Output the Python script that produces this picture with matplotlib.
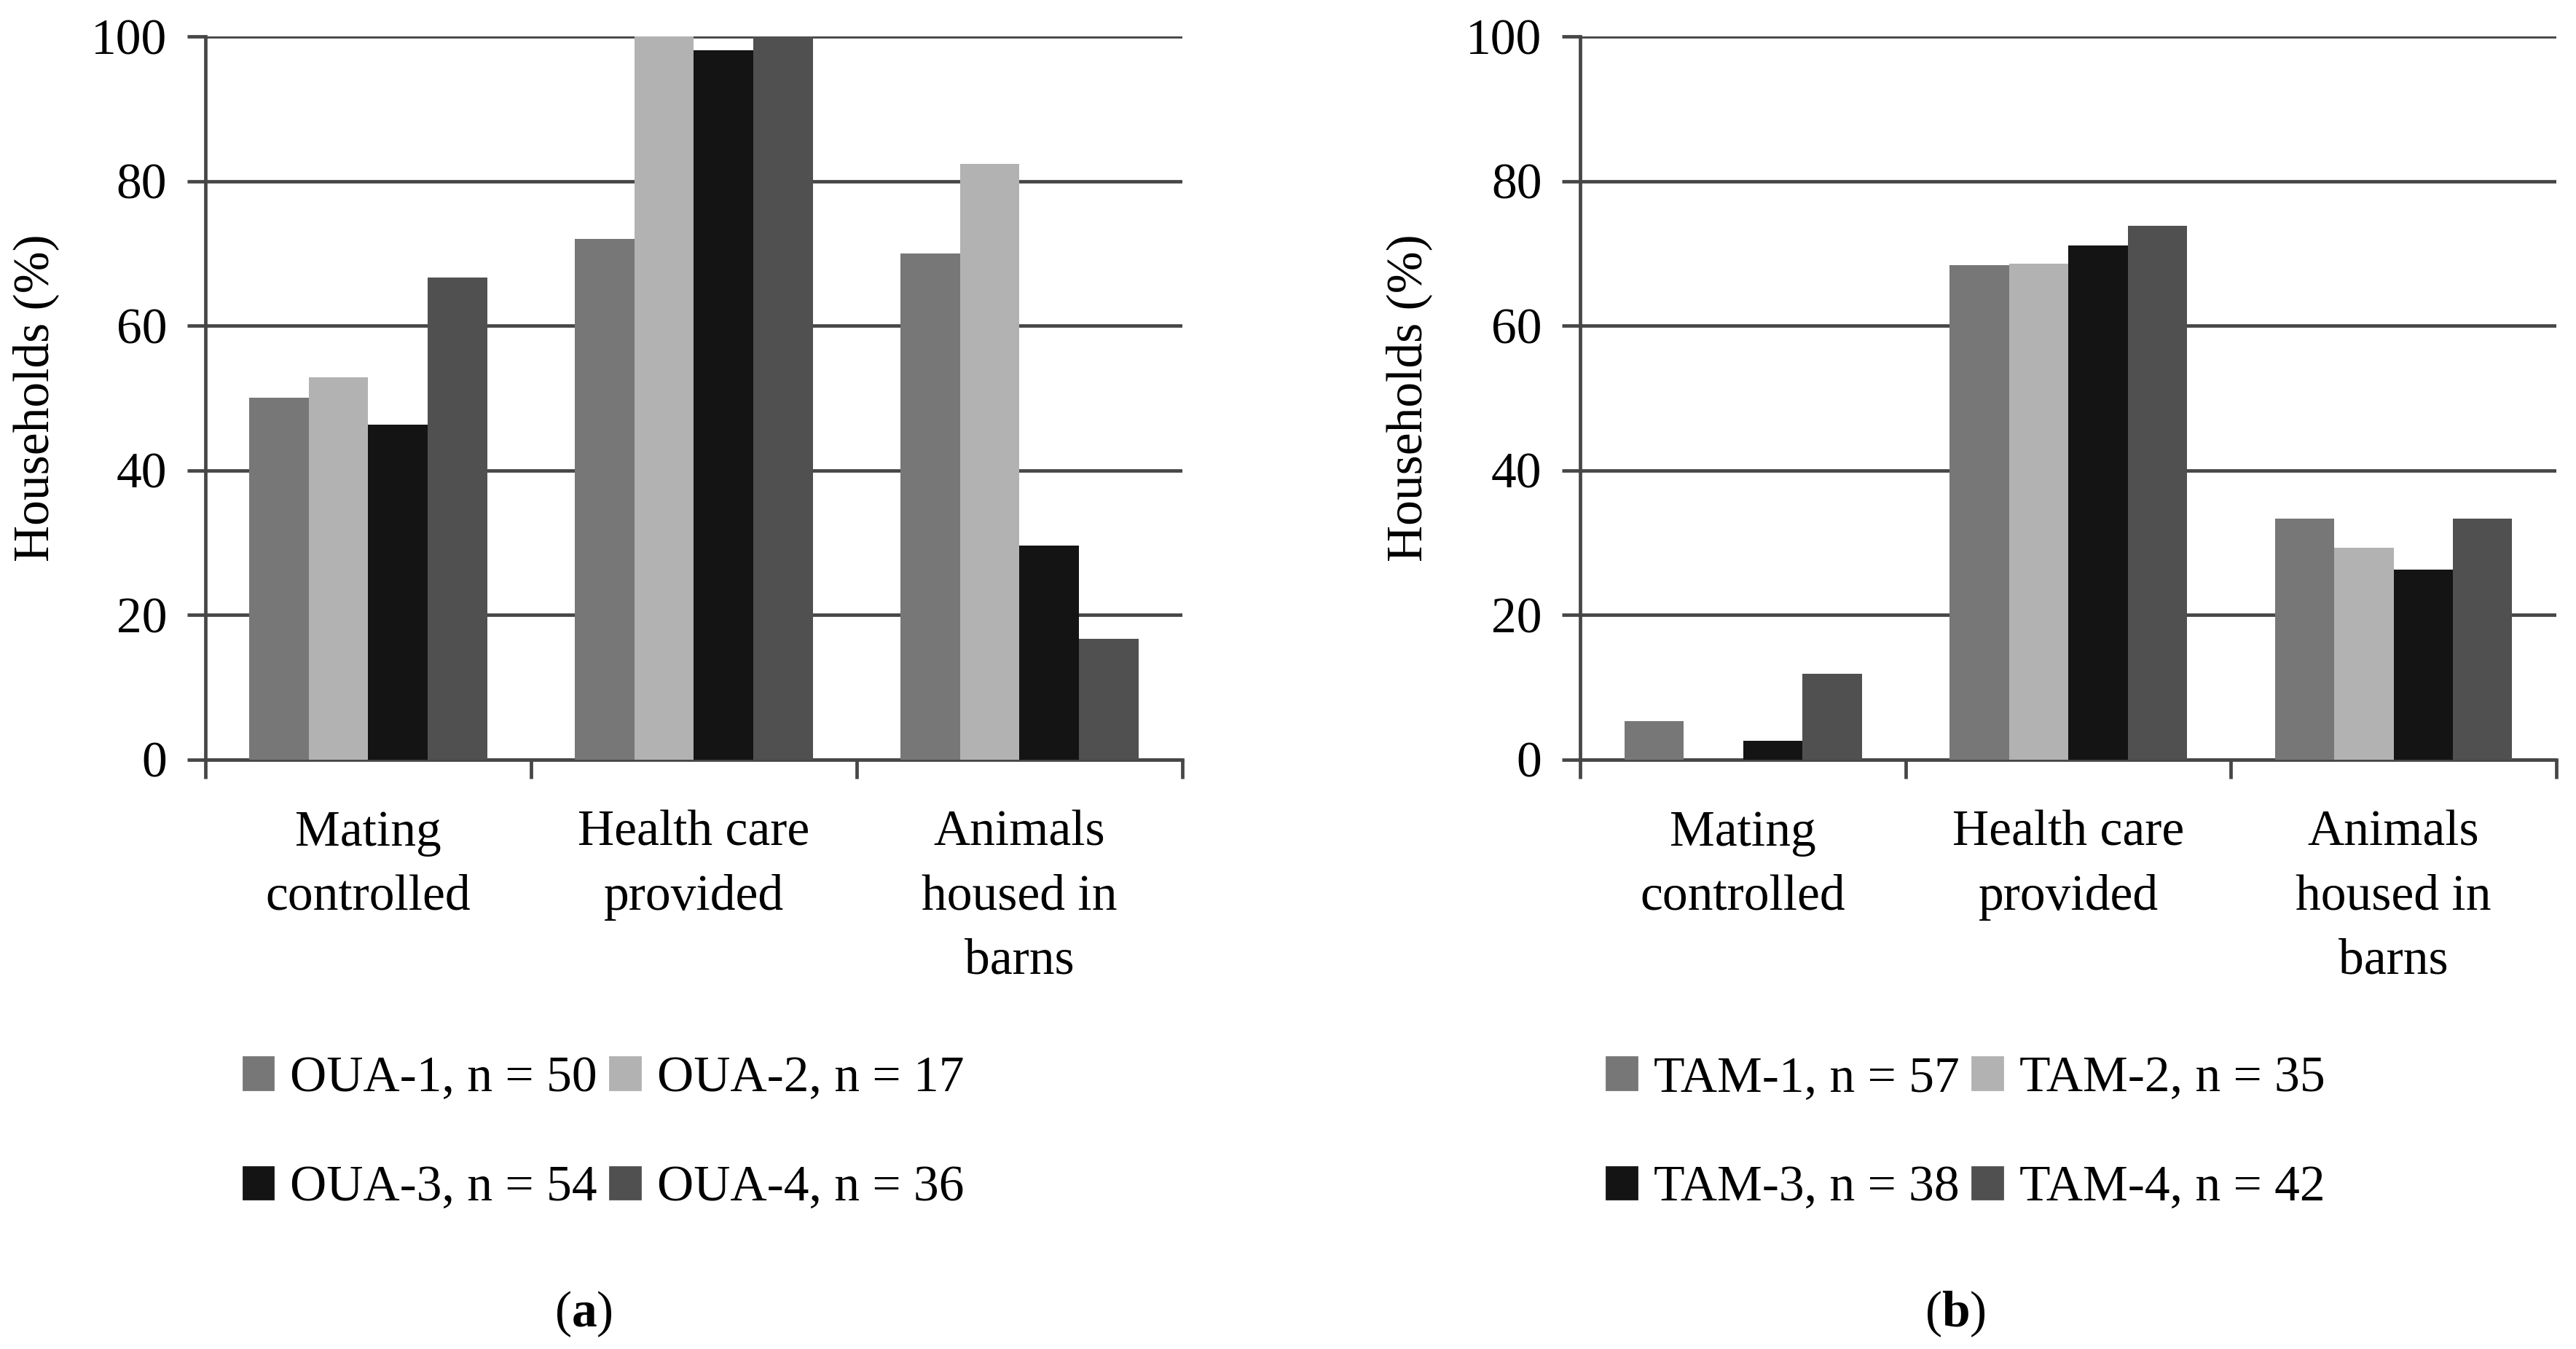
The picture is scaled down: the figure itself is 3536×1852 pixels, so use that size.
import matplotlib
matplotlib.use("Agg")
import matplotlib.pyplot as plt
from matplotlib.patches import Patch
import numpy as np

plt.rcParams["font.family"] = ["Liberation Serif", "DejaVu Serif"]
plt.rcParams["mathtext.fontset"] = "custom"
plt.rcParams["mathtext.rm"] = "Liberation Serif"
plt.rcParams["mathtext.bf"] = "Liberation Serif:bold"

# ── Data ──────────────────────────────────────────────────────────────────────
categories = ["Mating\ncontrolled", "Health care\nprovided", "Animals\nhoused in\nbarns"]

oua_labels = ["OUA-1, n = 50", "OUA-2, n = 17", "OUA-3, n = 54", "OUA-4, n = 36"]
oua_1 = [50.0, 72.0, 70.0]
oua_2 = [52.9, 100.0, 82.4]
oua_3 = [46.3, 98.1, 29.6]
oua_4 = [66.7, 100.0, 16.7]

tam_labels = ["TAM-1, n = 57", "TAM-2, n = 35", "TAM-3, n = 38", "TAM-4, n = 42"]
tam_1 = [5.3, 68.4, 33.3]
tam_2 = [0.0, 68.6, 29.3]
tam_3 = [2.6, 71.1, 26.3]
tam_4 = [11.9, 73.8, 33.3]

y_ticks = [0, 20, 40, 60, 80, 100]

# ── Style ─────────────────────────────────────────────────────────────────────
COLORS = ["#777777", "#b2b2b2", "#141414", "#505050"]
LINE_C = "#464646"
LW = 1.7
FS = 25
GROUP_W = 0.73

fig = plt.figure(figsize=(17.68, 9.26), dpi=200)
fig.patch.set_facecolor("white")

def draw_panel(rect, series, labels, leg_x, tag, tag_x, ylab_x):
    ax = fig.add_axes(rect)
    x = np.arange(len(categories))
    bw = GROUP_W / len(series)
    for k, vals in enumerate(series):
        ax.bar(x + (k - 1.5) * bw, vals, width=bw, color=COLORS[k],
               linewidth=0, zorder=3)
    ax.set_xlim(-0.5, len(categories) - 0.5)
    ax.set_ylim(0, 100)
    ax.set_axisbelow(True)

    ax.set_yticks(y_ticks)
    ax.set_yticklabels([str(t) for t in y_ticks], fontsize=FS)
    ax.yaxis.grid(True, color=LINE_C, linewidth=LW, zorder=0)
    ax.tick_params(axis="y", direction="out", length=9, width=LW,
                   color=LINE_C, pad=10)

    ax.set_xticks(np.arange(len(categories) + 1) - 0.5)
    ax.set_xticklabels([])
    ax.set_xticks(x, minor=True)
    ax.set_xticklabels(categories, minor=True, fontsize=FS, linespacing=1.5,
                       va="top")
    ax.tick_params(axis="x", which="major", direction="out", length=9.5,
                   width=LW, color=LINE_C)
    ax.tick_params(axis="x", which="minor", length=0, pad=25)

    for s in ("top", "right"):
        ax.spines[s].set_visible(False)
    for s in ("left", "bottom"):
        ax.spines[s].set_color(LINE_C)
        ax.spines[s].set_linewidth(LW)

    fig.text(ylab_x, rect[1] + rect[3] / 2, "Households (%)", rotation=90,
             ha="center", va="center", fontsize=FS)

    handles = [Patch(color=c) for c in COLORS]
    order = [0, 2, 1, 3]   # column-wise fill -> rows 1,2 / 3,4
    ax.legend([handles[i] for i in order], [labels[i] for i in order],
              ncol=2, loc="center left", bbox_to_anchor=(leg_x, 0.1596),
              bbox_transform=fig.transFigure, frameon=False, fontsize=FS,
              handlelength=0.6, handleheight=0.6, handletextpad=0.33,
              columnspacing=0.25, labelspacing=1.25, borderpad=0,
              borderaxespad=0)

    fig.text(tag_x, 0.0256, "(" + r"$\mathbf{" + tag + "}$" + ")",
             ha="center", va="center", fontsize=FS)
    return ax

draw_panel([0.0797, 0.437, 0.3793, 0.536], [oua_1, oua_2, oua_3, oua_4],
           oua_labels, 0.0944, "a", 0.2264, 0.014)
draw_panel([0.6135, 0.437, 0.3788, 0.536], [tam_1, tam_2, tam_3, tam_4],
           tam_labels, 0.6237, "b", 0.759, 0.547)

fig.savefig("out.png", dpi=200)
